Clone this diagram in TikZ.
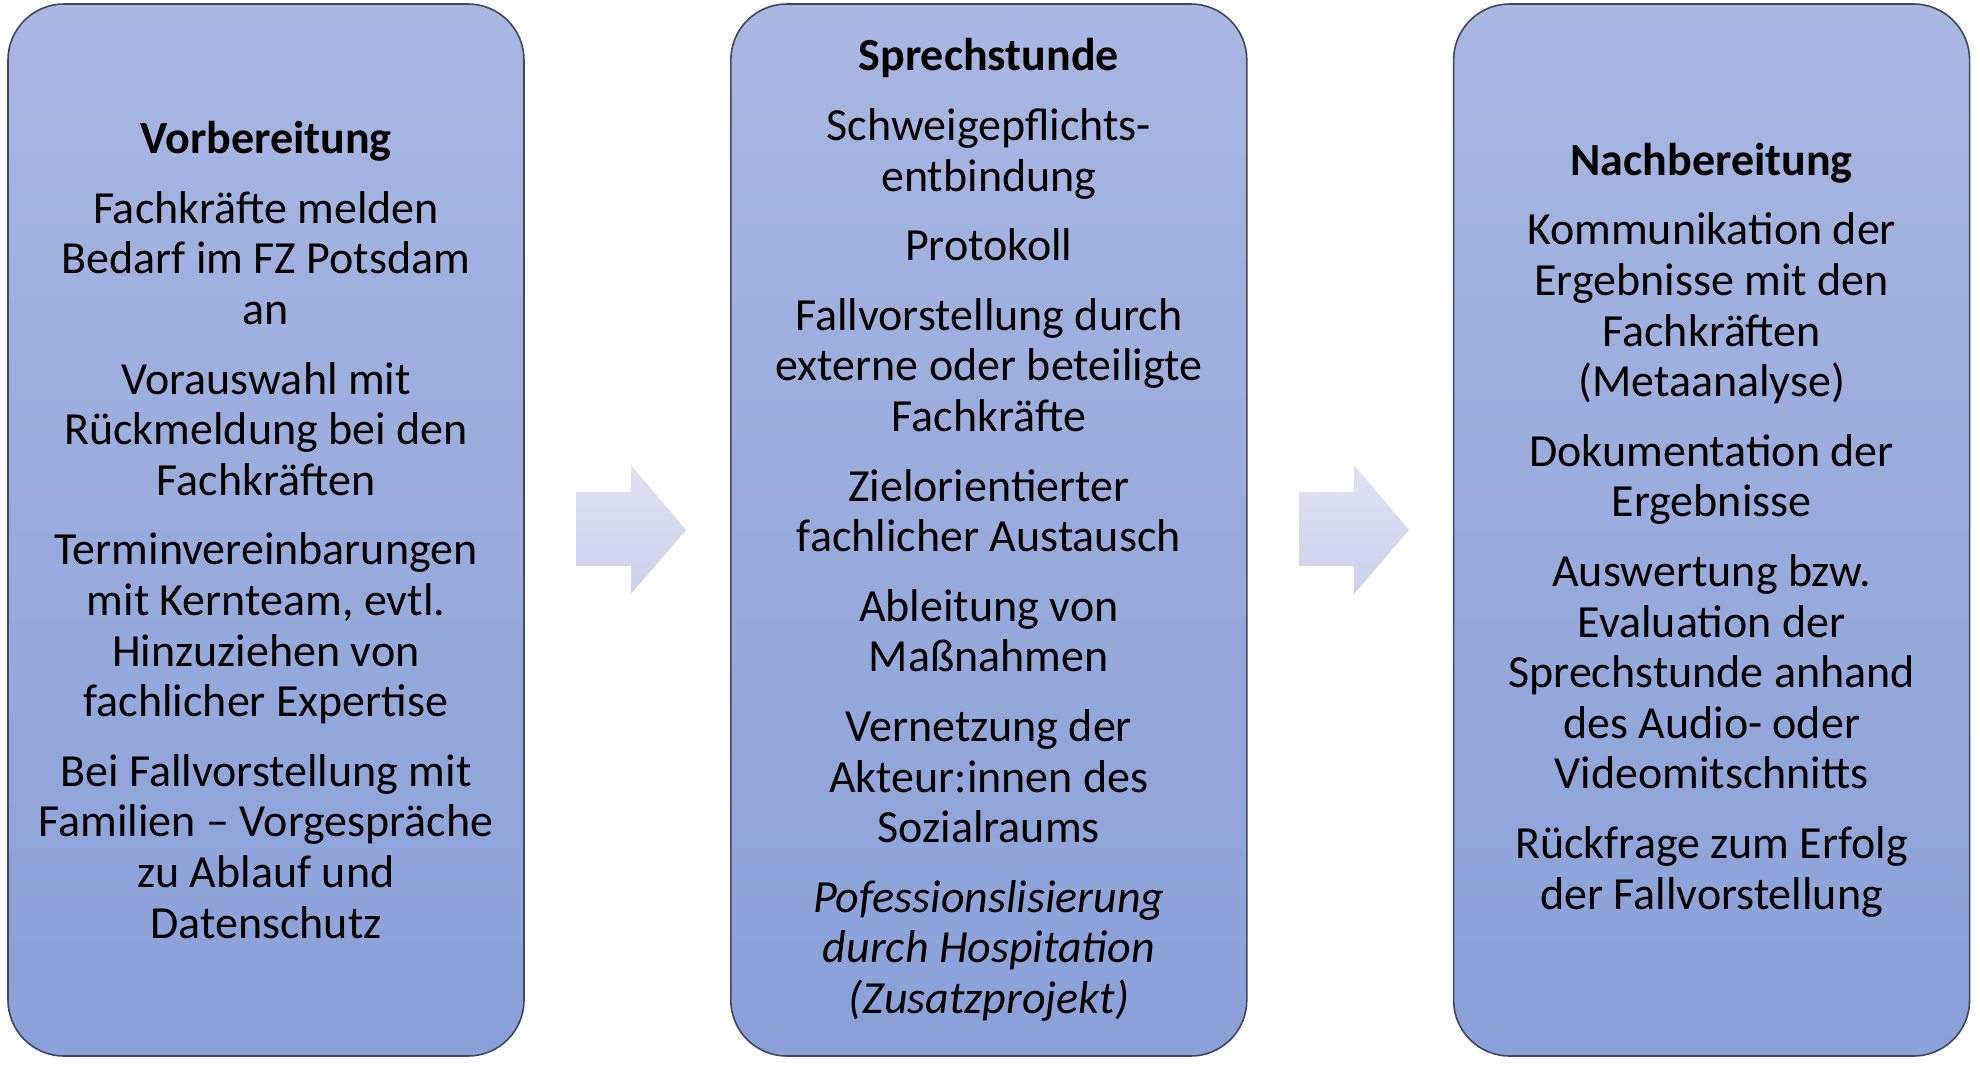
\documentclass[tikz,border=0pt]{standalone}
\usepackage{fontspec}
\setmainfont{Carlito}
\definecolor{phaseTop}{HTML}{A9B7E1}
\definecolor{phaseBottom}{HTML}{8AA0D8}
\definecolor{phaseRand}{HTML}{3E4766}
\definecolor{pfeilTop}{HTML}{DEE2F1}
\definecolor{pfeilBottom}{HTML}{CAD2EC}
\usepackage{tikz}
\usetikzlibrary{
	positioning,
	calc
}
\tikzset{
	phaseBox/.style={
		draw=phaseRand,
		line width=0.8pt,
		rounded corners=28pt,
		top color=phaseTop,
		bottom color=phaseBottom,
		align=center,
		inner sep=0pt,
		minimum width=258pt,
		minimum height=526pt,
		font=\fontsize{23}{25.3}\selectfont
	},
	pfeilBlock/.style={
		top color=pfeilTop,
		bottom color=pfeilBottom,
		draw=none
	}
}
\newcommand{\absatz}{\\[9.5pt]}

\begin{document}
\begin{tikzpicture}[x=0.5pt, y=-0.5pt]
		\useasboundingbox (0,0) rectangle (1980,1067);
		\node[phaseBox] (vorb) at (266,530) {
			\textbf{Vorbereitung}\absatz
			Fachkräfte melden\\Bedarf im FZ Potsdam\\an\absatz
			Vorauswahl mit\\Rückmeldung bei den\\Fachkräften\absatz
			Terminvereinbarungen\\mit Kernteam, evtl.\\Hinzuziehen von\\fachlicher Expertise\absatz
			Bei Fallvorstellung mit\\Familien – Vorgespräche\\zu Ablauf und\\Datenschutz
		};
		\node[phaseBox, right=102.6pt of vorb] (sprech) {
			\textbf{Sprechstunde}\absatz
			Schweigepflichts-\\entbindung\absatz
			Protokoll\absatz
			Fallvorstellung durch\\externe oder beteiligte\\Fachkräfte\absatz
			Zielorientierter\\fachlicher Austausch\absatz
			Ableitung von\\Maßnahmen\absatz
			Vernetzung der\\Akteur:innen des\\Sozialraums\absatz
			\itshape Pofessionslisierung\\\itshape durch Hospitation\\\itshape (Zusatzprojekt)
		};
		\node[phaseBox, right=102.6pt of sprech] (nachb) {
			\textbf{Nachbereitung}\absatz
			Kommunikation der\\Ergebnisse mit den\\Fachkräften\\(Metaanalyse)\absatz
			Dokumentation der\\Ergebnisse\absatz
			Auswertung bzw.\\Evaluation der\\Sprechstunde anhand\\des Audio- oder\\Videomitschnitts\absatz
			Rückfrage zum Erfolg\\der Fallvorstellung
		};
		% Blockpfeile zwischen den Phasen
		\foreach \dx in {0,723}{
			\path[pfeilBlock] (576+\dx,492) -- (631+\dx,492) -- (631+\dx,465) -- (686+\dx,530)
				-- (631+\dx,594) -- (631+\dx,566) -- (576+\dx,566) -- cycle;
		}
	\end{tikzpicture}
\end{document}
